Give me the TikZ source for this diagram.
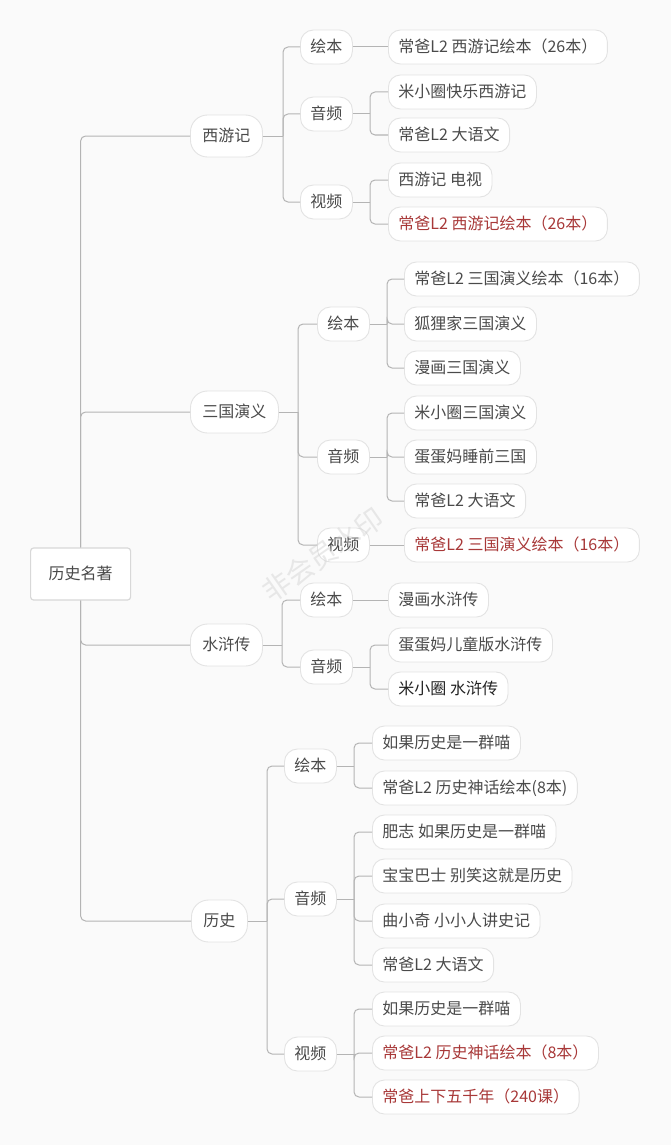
\documentclass[tikz,border=0pt]{standalone}
\usepackage{fontspec}
\setmainfont{Noto Sans CJK SC}
\usetikzlibrary{calc}
\definecolor{bg}{HTML}{FAFAFA}
\definecolor{txt}{HTML}{4A4A4A}
\definecolor{dark}{HTML}{222222}
\definecolor{red1}{HTML}{A83838}
\definecolor{ln}{HTML}{B4B4B4}
\definecolor{bd}{HTML}{E3E3E3}
\definecolor{rbd}{HTML}{D8D8D8}
\definecolor{wm}{HTML}{D0D0D0}
\begin{document}
\begin{tikzpicture}[x=1pt,y=-1pt,
  base/.style={draw=bd, line width=0.9pt, fill=white, text=txt,
    font=\fontsize{16}{19}\selectfont, anchor=west, inner ysep=0pt,
    text height=13.5pt, text depth=2.5pt},
  leaf/.style={base, rounded corners=12pt, minimum height=34pt, inner xsep=10pt},
  cat/.style={base, rounded corners=13pt, minimum height=34pt, inner xsep=10pt},
  lvl/.style={base, rounded corners=17pt, minimum height=42pt, inner xsep=12pt},
  rootbox/.style={base, draw=rbd, line width=1.2pt, rounded corners=3pt,
    minimum height=52pt, minimum width=100pt},
  hot/.style={text=red1},
  conn/.style={draw=ln, line width=1pt, rounded corners=5pt}]
\fill[bg] (0,0) rectangle (671,1145);
\useasboundingbox (0,0) rectangle (671,1145);

% root
\node[rootbox] (root) at (30,574) {历史名著};

% level 1
\node[lvl] (xyj) at (190,136) {西游记};
\node[lvl] (sgy) at (190,412) {三国演义};
\node[lvl] (shz) at (190,645) {水浒传};
\node[lvl] (ls)  at (191,921) {历史};

% level 2
\node[cat] (hb1) at (300,47)  {绘本};
\node[cat] (yp1) at (300,114) {音频};
\node[cat] (sp1) at (300,202) {视频};
\node[cat] (hb2) at (317,324) {绘本};
\node[cat] (yp2) at (317,457) {音频};
\node[cat] (sp2) at (317,545) {视频};
\node[cat] (hb3) at (300,600) {绘本};
\node[cat] (yp3) at (300,667) {音频};
\node[cat] (hb4) at (284,766) {绘本};
\node[cat] (yp4) at (284,899) {音频};
\node[cat] (sp4) at (284,1054) {视频};

% leaves
\node[leaf] (l11) at (388,47)  {常爸L2 西游记绘本（26本）};
\node[leaf] (l12) at (388,92)  {米小圈快乐西游记};
\node[leaf] (l13) at (388,135) {常爸L2 大语文};
\node[leaf] (l14) at (388,180) {西游记 电视};
\node[leaf,hot] (l15) at (388,224) {常爸L2 西游记绘本（26本）};

\node[leaf] (l21) at (404,279) {常爸L2 三国演义绘本（16本）};
\node[leaf] (l22) at (404,324) {狐狸家三国演义};
\node[leaf] (l23) at (404,368) {漫画三国演义};
\node[leaf] (l24) at (404,413) {米小圈三国演义};
\node[leaf] (l25) at (404,457) {蛋蛋妈睡前三国};
\node[leaf] (l26) at (404,501) {常爸L2 大语文};
\node[leaf,hot] (l27) at (404,545) {常爸L2 三国演义绘本（16本）};

\node[leaf] (l31) at (388,600) {漫画水浒传};
\node[leaf] (l32) at (388,645) {蛋蛋妈儿童版水浒传};
\node[leaf,text=dark] (l33) at (388,689) {米小圈 水浒传};

\node[leaf] (l41) at (372,743)  {如果历史是一群喵};
\node[leaf] (l42) at (372,788)  {常爸L2 历史神话绘本(8本)};
\node[leaf] (l43) at (372,832)  {肥志 如果历史是一群喵};
\node[leaf] (l44) at (372,876)  {宝宝巴士 别笑这就是历史};
\node[leaf] (l45) at (372,921)  {曲小奇 小小人讲史记};
\node[leaf] (l46) at (372,965)  {常爸L2 大语文};
\node[leaf] (l47) at (372,1009) {如果历史是一群喵};
\node[leaf,hot] (l48) at (372,1053) {常爸L2 历史神话绘本（8本）};
\node[leaf,hot] (l49) at (372,1097) {常爸上下五千年（240课）};

% trunk from root
\draw[conn] (root.north) |- (xyj.west);
\draw[conn] (root.north) |- (sgy.west);
\draw[conn] (root.south) |- (shz.west);
\draw[conn] (root.south) |- (ls.west);

% single-child links
\foreach \p/\c in {hb1/l11, sp2/l27, hb3/l31}{
  \draw[conn] (\p.east) -- (\c.west);
}

% branches
\foreach \p/\bx/\c in {
  xyj/283/hb1, xyj/283/yp1, xyj/283/sp1,
  sgy/298/hb2, sgy/298/yp2, sgy/298/sp2,
  shz/282/hb3, shz/282/yp3,
  ls/267/hb4, ls/267/yp4, ls/267/sp4,
  yp1/370/l12, yp1/370/l13,
  sp1/370/l14, sp1/370/l15,
  hb2/387/l21, hb2/387/l22, hb2/387/l23,
  yp2/387/l24, yp2/387/l25, yp2/387/l26,
  yp3/370/l32, yp3/370/l33,
  hb4/354/l41, hb4/354/l42,
  yp4/354/l43, yp4/354/l44, yp4/354/l45, yp4/354/l46,
  sp4/354/l47, sp4/354/l48, sp4/354/l49}{
  \coordinate (bj) at (\bx,0);
  \draw[conn] (\p.east) -- (\p.east -| bj);
  \draw[conn] (\p.east -| bj) |- (\c.west);
}

% watermark (faint, over the picture)
\node[text=wm, opacity=0.45, rotate=35, font=\fontsize{28}{28}\selectfont] (wmk) at (323,555) {非会员水印};
\end{tikzpicture}
\end{document}
